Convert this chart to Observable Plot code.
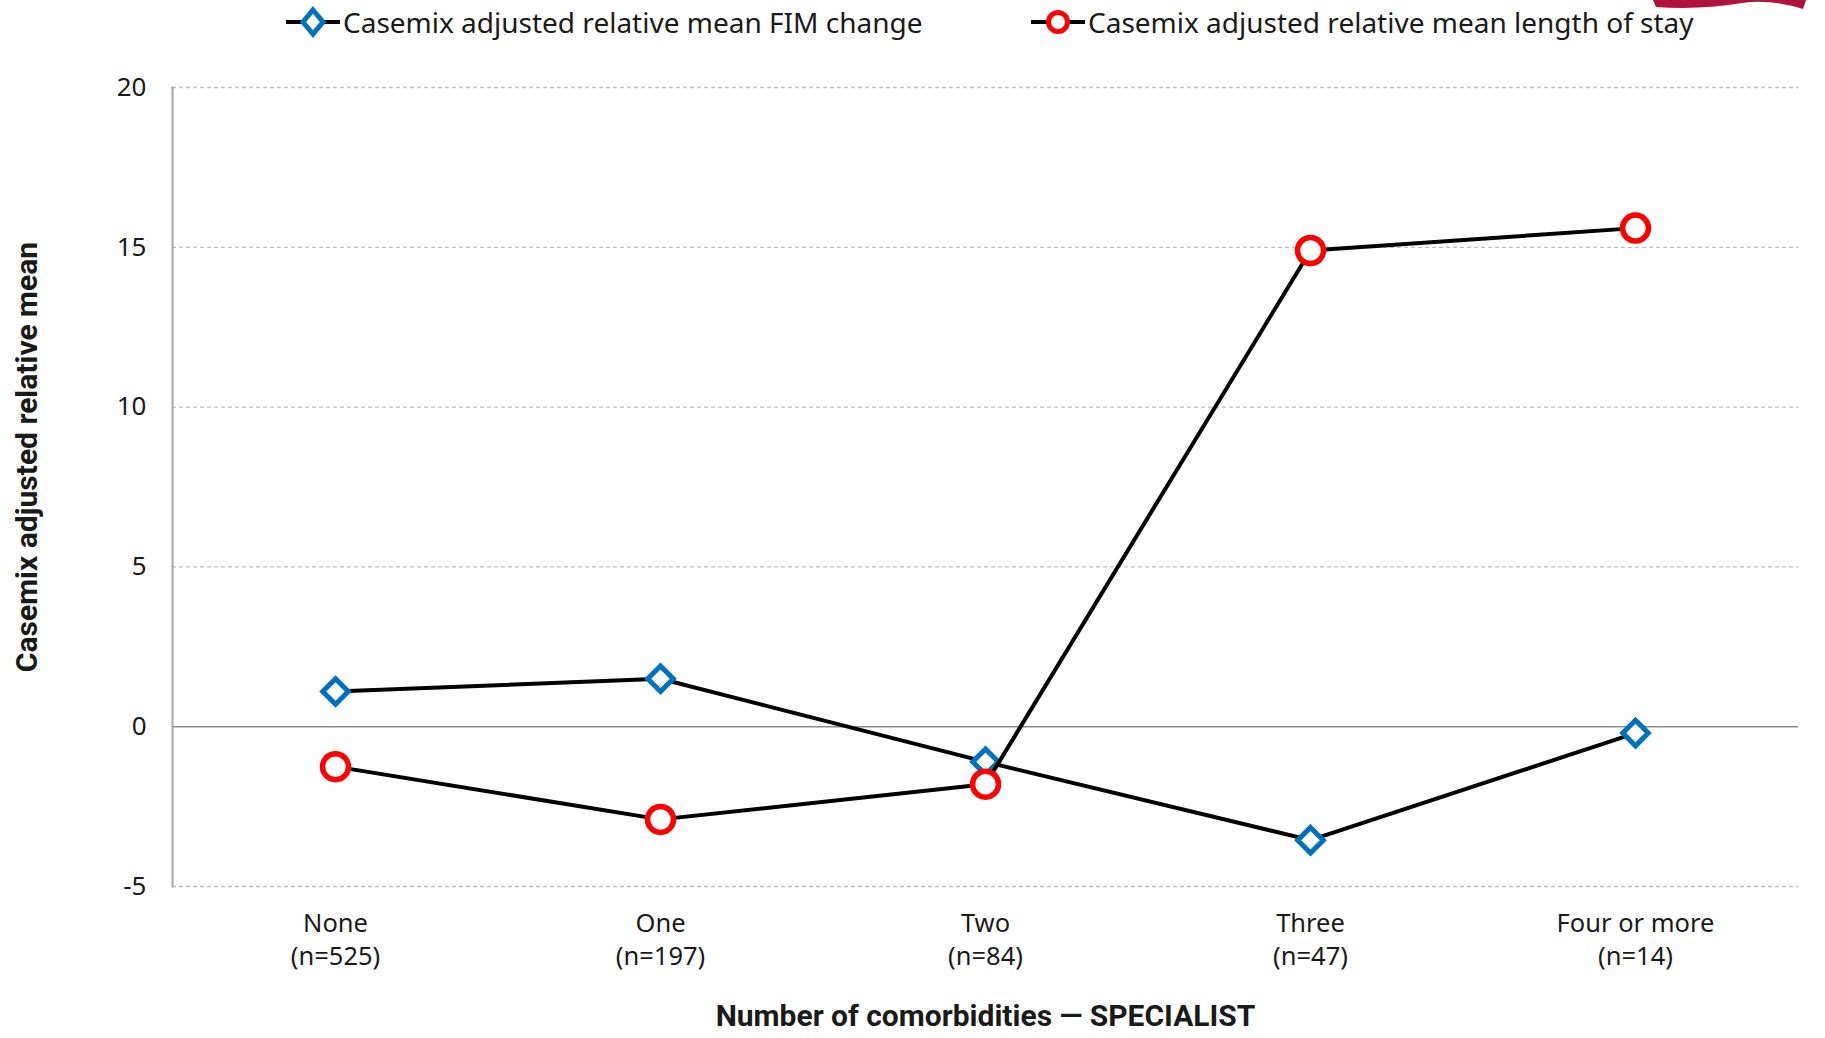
<!DOCTYPE html>
<html>
<head>
<meta charset="utf-8">
<script src="https://cdn.jsdelivr.net/npm/d3@7"></script>
<script src="https://cdn.jsdelivr.net/npm/@observablehq/plot@0.6"></script>
<style>
  html, body { margin: 0; padding: 0; background: #fff; }
  body { width: 1825px; height: 1038px; overflow: hidden; position: relative; font-family: "Noto Sans", sans-serif; }
  #legend { position: relative; height: 56px; }
  .item { position: absolute; top: 3px; display: flex; align-items: center; font-size: 28px; color: #1a1a1a; white-space: nowrap; }
  .item svg { margin-right: 3px; }
  #logo { position: absolute; left: 0; top: 0; pointer-events: none; }
</style>
</head>
<body>
<div id="legend"></div>
<div id="chart"></div>
<svg id="logo" width="1825" height="14"><path d="M1653,0 L1656,7 Q1700,10 1742,3 Q1772,-1 1803,9 L1806,0 Z" fill="#B0123E"/></svg>
<script>
// ---- data ----
const categories = ["None", "One", "Two", "Three", "Four or more"];
const counts = [525, 197, 84, 47, 14];
const fimChange = [1.1, 1.5, -1.1, -3.55, -0.2];
const lengthOfStay = [-1.25, -2.9, -1.8, 14.9, 15.6];
const yTicks = [-5, 0, 5, 10, 15, 20];
const seriesNames = ["Casemix adjusted relative mean FIM change", "Casemix adjusted relative mean length of stay"];
const yTitle = "Casemix adjusted relative mean";
const xTitle = "Number of comorbidities \u2014 SPECIALIST";

const fimData = categories.map((c, i) => ({cat: c, value: fimChange[i]}));
const losData = categories.map((c, i) => ({cat: c, value: lengthOfStay[i]}));

// ---- legend ----
const legend = document.getElementById("legend");
const legendDefs = [
  {left: 286, sym: `<path d="M27,4 L37,16 L27,28 L17,16 Z" fill="#fff" stroke="#0070C0" stroke-width="5"/>`},
  {left: 1031, sym: `<circle cx="27" cy="16" r="9.5" fill="#fff" stroke="#FF0000" stroke-width="5"/>`}
];
legendDefs.forEach((d, i) => {
  const el = document.createElement("div");
  el.className = "item";
  el.style.left = d.left + "px";
  el.innerHTML = `<svg width="54" height="32"><line x1="0" y1="16" x2="54" y2="16" stroke="#000" stroke-width="4"/>${d.sym}</svg><span>${seriesNames[i]}</span>`;
  legend.appendChild(el);
});

// ---- chart ----
const chart = Plot.plot({
  width: 1825,
  height: 982,
  marginTop: 31,
  marginBottom: 152,
  marginLeft: 172,
  marginRight: 27,
  style: {fontFamily: "'Noto Sans', sans-serif", fontSize: "25px", color: "#1a1a1a", background: "#fff", overflow: "visible"},
  x: {type: "point", domain: categories, padding: 0.5},
  y: {domain: [-5, 20]},
  marks: [
    Plot.gridY(yTicks.filter(t => t !== 0), {stroke: "#bfbfbf", strokeOpacity: 1, strokeWidth: 1.3, strokeDasharray: "4,3"}),
    Plot.ruleY([0], {stroke: "#8c8c8c", strokeWidth: 1.6}),
    Plot.frame({anchor: "left", stroke: "#a6a6a6", strokeWidth: 2}),
    Plot.axisY(yTicks, {tickSize: 0, tickPadding: 26, fontSize: 26, label: null, tickFormat: d => String(d)}),
    Plot.axisX({tickSize: 0, tickPadding: 22, fontSize: 25.5, label: null, lineHeight: 1.3,
      tickFormat: d => `${d}\n(n=${counts[categories.indexOf(d)]})`}),
    Plot.line(fimData, {x: "cat", y: "value", stroke: "#000", strokeWidth: 4}),
    Plot.dot(fimData, {x: "cat", y: "value", symbol: "diamond2", r: 11.5, stroke: "#0070C0", strokeWidth: 5, fill: "#fff"}),
    Plot.line(losData, {x: "cat", y: "value", stroke: "#000", strokeWidth: 4}),
    Plot.dot(losData, {x: "cat", y: "value", symbol: "circle", r: 13, stroke: "#FF0000", strokeWidth: 5.5, fill: "#fff"}),
    Plot.text([xTitle], {text: d => d, frameAnchor: "bottom", dy: 139, fontSize: 30, fontWeight: "bold", fontFamily: "Roboto, sans-serif", fill: "#1a1a1a"}),
    Plot.text([yTitle], {text: d => d, frameAnchor: "left", textAnchor: "middle", dx: -145, dy: -30, rotate: -90, fontSize: 30, fontWeight: "bold", fontFamily: "Roboto, sans-serif", fill: "#1a1a1a"})
  ]
});
document.getElementById("chart").appendChild(chart);
</script>
</body>
</html>
